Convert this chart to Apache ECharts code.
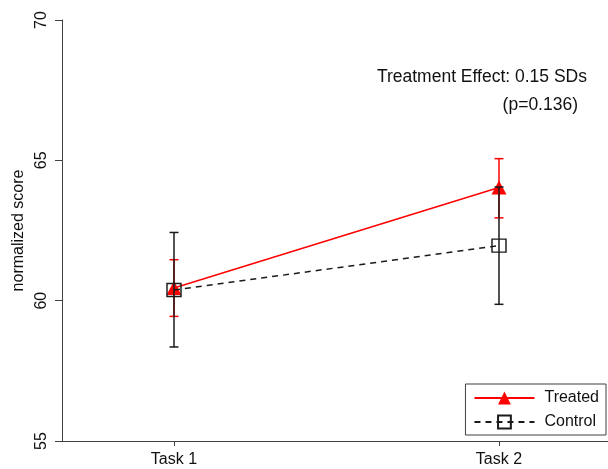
<!DOCTYPE html>
<html>
<head>
<meta charset="utf-8">
<script src="https://cdn.jsdelivr.net/npm/echarts@6/dist/echarts.min.js"></script>
<style>html,body{margin:0;padding:0;background:#fff;}#c{width:608px;height:469px;}</style>
</head>
<body>
<div id="c"></div>
<script>
var categories = ['Task 1', 'Task 2'];
var xPositions = [1, 2];
var treatedMean = [60.45, 64.03];
var treatedLow = [59.44, 62.95];
var treatedHigh = [61.46, 65.06];
var controlMean = [60.38, 61.96];
var controlLow = [58.35, 59.87];
var controlHigh = [62.43, 64.05];
var yTicks = [55, 60, 65, 70];
var annotationLines = ['Treatment Effect: 0.15 SDs', '(p=0.136)'];

var FONT = '"Liberation Sans", Arial, sans-serif';

function pairs(vals) { return vals.map(function (v, i) { return [xPositions[i], v]; }); }
function errData(lo, hi) { return lo.map(function (v, i) { return [xPositions[i], v, hi[i]]; }); }

function errRender(color, width) {
  return function (params, api) {
    var x = api.value(0);
    var lo = api.coord([x, api.value(1)]);
    var hi = api.coord([x, api.value(2)]);
    var hw = 4.5;
    var st = { stroke: color, lineWidth: width };
    return {
      type: 'group',
      children: [
        { type: 'line', shape: { x1: lo[0], y1: lo[1], x2: hi[0], y2: hi[1] }, style: st },
        { type: 'line', shape: { x1: lo[0] - hw, y1: lo[1], x2: lo[0] + hw, y2: lo[1] }, style: st },
        { type: 'line', shape: { x1: hi[0] - hw, y1: hi[1], x2: hi[0] + hw, y2: hi[1] }, style: st }
      ]
    };
  };
}

var chart = echarts.init(document.getElementById('c'), null, { renderer: 'canvas' });
chart.setOption({
  animation: false,
  backgroundColor: '#fff',
  textStyle: { fontFamily: FONT },
  grid: { left: 62, right: 0, top: 20, bottom: 28, containLabel: false, outerBoundsMode: 'none' },
  xAxis: {
    type: 'value',
    min: 0.6554,
    max: 2.3354,
    splitLine: { show: false },
    axisLine: { show: true, onZero: false, lineStyle: { color: '#404040', width: 1 } },
    axisTick: { show: true, length: 5, customValues: xPositions, lineStyle: { color: '#404040' } },
    axisLabel: {
      customValues: xPositions,
      margin: 11,
      fontSize: 16,
      color: '#111',
      fontFamily: FONT,
      formatter: function (v) { var i = xPositions.indexOf(v); return i >= 0 ? categories[i] : ''; }
    }
  },
  yAxis: {
    type: 'value',
    min: 55,
    max: 70,
    interval: 5,
    name: 'normalized score',
    nameLocation: 'middle',
    nameRotate: 90,
    nameGap: 35,
    nameTextStyle: { fontSize: 16, color: '#111', fontFamily: FONT },
    splitLine: { show: false },
    axisLine: { show: true, lineStyle: { color: '#404040', width: 1 } },
    axisTick: { show: true, length: 7, lineStyle: { color: '#404040' } },
    axisLabel: {
      rotate: 90,
      margin: 12,
      fontSize: 16,
      color: '#111',
      fontFamily: FONT,
      formatter: function (v) { return yTicks.indexOf(v) >= 0 ? String(v) : ''; }
    }
  },
  legend: {
    orient: 'vertical',
    right: 2,
    bottom: 34,
    padding: [6, 7, 5, 8],
    itemWidth: 60,
    itemHeight: 16,
    itemGap: 8,
    borderColor: '#404040',
    borderWidth: 1,
    backgroundColor: '#fff',
    textStyle: { fontSize: 16, color: '#111', fontFamily: FONT, padding: [0, 0, 0, 5] },
    data: ['Treated', 'Control']
  },
  graphic: [
    { type: 'text', right: 21, top: 68, style: { text: annotationLines[0], font: '17.5px ' + FONT, fill: '#111' } },
    { type: 'text', right: 30, top: 96, style: { text: annotationLines[1], font: '17.5px ' + FONT, fill: '#111' } }
  ],
  series: [
    {
      name: 'TreatedErr', type: 'custom', renderItem: errRender('#ff0000', 1.5),
      data: errData(treatedLow, treatedHigh), z: 2, silent: true
    },
    {
      name: 'Treated', type: 'line', data: pairs(treatedMean),
      symbol: 'triangle', symbolSize: [15, 14],
      itemStyle: { color: '#ff0000' },
      lineStyle: { color: '#ff0000', width: 1.5 },
      z: 3
    },
    {
      name: 'ControlErr', type: 'custom', renderItem: errRender('#1a1a1a', 1.5),
      data: errData(controlLow, controlHigh), z: 4, silent: true
    },
    {
      name: 'Control', type: 'line', data: pairs(controlMean),
      symbol: 'rect', symbolSize: [14, 13],
      itemStyle: { color: 'rgba(0,0,0,0)', borderColor: '#1a1a1a', borderWidth: 1.4 },
      lineStyle: { color: '#1a1a1a', width: 1.5, type: [6, 5] },
      z: 5
    }
  ]
});
</script>
</body>
</html>
